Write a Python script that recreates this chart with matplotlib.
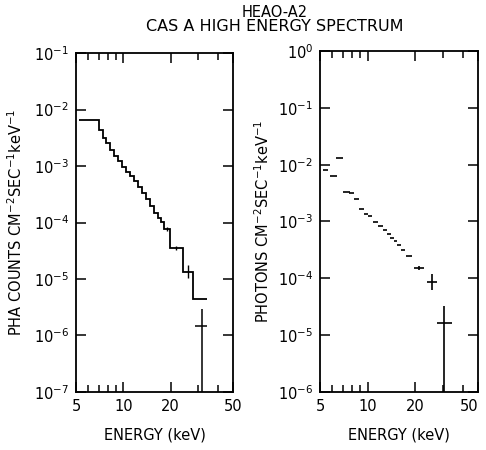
import numpy as np
import matplotlib.pyplot as plt
from matplotlib.ticker import FixedLocator, NullFormatter

plt.rcParams['font.family'] = ['DejaVu Sans']
plt.rcParams['mathtext.fontset'] = 'dejavusans'

# PHA counts: step histogram (bin edges in keV, one value per bin)
pha_edges = [5.2, 7.0, 7.4, 7.8, 8.2, 8.7, 9.3, 9.8, 10.4, 11.0, 11.7, 12.4,
             13.2, 14.0, 14.8, 15.7, 16.6, 17.4, 18.2, 19.8, 24.0, 27.8, 34.0]
pha_counts = [6.5e-3, 4.3e-3, 3.1e-3, 2.55e-3, 1.92e-3, 1.5e-3, 1.23e-3, 9.6e-4,
              7.8e-4, 6.65e-4, 5.4e-4, 4.25e-4, 3.3e-4, 2.6e-4, 1.96e-4, 1.47e-4,
              1.2e-4, 1.02e-4, 7.7e-5, 3.5e-5, 1.33e-5, 4.4e-6]
# error marks on the high-energy bins
pha_err_e = [19.0, 21.8, 25.8]
pha_err_v = [7.7e-5, 3.5e-5, 1.33e-5]
pha_err_lo = [0.6e-5, 0.3e-5, 0.3e-5]
pha_err_hi = [0.6e-5, 0.3e-5, 0.45e-5]
# last channel upper point
pha_last_e = 31.7
pha_last_v = 1.48e-6
pha_last_xerr = [[3.0], [2.7]]
pha_last_yerr = [[1.48e-6 - 1e-8], [1.47e-6]]

# unfolded photon spectrum
ph_e = [5.46, 6.09, 6.69, 7.36, 7.91, 8.51, 9.15, 9.77, 10.36, 11.22, 12.07,
        12.89, 13.67, 14.38, 15.02, 15.81, 16.76, 18.28, 21.17, 25.58, 30.47]
ph_flux = [8.0e-3, 6.3e-3, 1.31e-2, 3.3e-3, 3.16e-3, 2.48e-3, 1.65e-3, 1.35e-3,
           1.24e-3, 9.8e-4, 8.3e-4, 7.1e-4, 6.0e-4, 5.1e-4, 4.5e-4, 3.85e-4,
           3.15e-4, 2.47e-4, 1.51e-4, 8.6e-5, 1.63e-5]
ph_e_lo = [5.26, 5.80, 6.35, 7.0, 7.63, 8.2, 8.82, 9.45, 10.0, 10.8, 11.6,
           12.45, 13.25, 13.95, 14.6, 15.3, 16.2, 17.5, 19.7, 23.8, 27.5]
ph_e_hi = [5.66, 6.40, 7.04, 7.73, 8.2, 8.82, 9.5, 10.1, 10.72, 11.65, 12.55,
           13.35, 14.1, 14.8, 15.45, 16.3, 17.35, 19.1, 22.8, 27.5, 34.2]
ph_f_lo = [0, 0, 0, 0, 0, 0, 0, 0, 0, 0, 0, 0, 0, 0, 0, 0, 0, 0, 1.3e-5, 2.4e-5, 1.63e-5 - 1e-8]
ph_f_hi = [0, 0, 0, 0, 0, 0, 0, 0, 0, 0, 0, 0, 0, 0, 0, 0, 0, 0, 1.4e-5, 3.3e-5, 1.61e-5]

xtick_major = [5, 10, 20, 50]
xtick_minor = [6, 7, 8, 9, 30, 40]

fig = plt.figure(figsize=(4.86, 4.5), dpi=100)
ax1 = fig.add_axes([0.1564, 0.1289, 0.3230, 0.7533])
ax2 = fig.add_axes([0.6584, 0.1289, 0.3251, 0.7578])

lw = 1.3
fs = 10.5


def style_axis(ax, ylo, yhi):
    ax.set_xscale('log')
    ax.set_yscale('log')
    ax.set_xlim(5, 50)
    ax.set_ylim(10.0 ** ylo, 10.0 ** yhi)
    ax.xaxis.set_major_locator(FixedLocator(xtick_major))
    ax.xaxis.set_minor_locator(FixedLocator(xtick_minor))
    ax.xaxis.set_minor_formatter(NullFormatter())
    ax.set_xticklabels([str(t) for t in xtick_major])
    decades = range(ylo, yhi + 1)
    ax.yaxis.set_major_locator(FixedLocator([10.0 ** d for d in decades]))
    ax.yaxis.set_minor_locator(FixedLocator([]))
    ax.set_yticklabels(['10$^{%d}$' % d for d in decades])
    ax.tick_params(which='both', direction='in', top=True, right=True,
                   width=1.1, labelsize=fs, pad=5)
    ax.tick_params(which='major', length=7)
    ax.tick_params(which='minor', length=5)
    for s in ax.spines.values():
        s.set_linewidth(lw)
    ax.set_xlabel('ENERGY (keV)', fontsize=fs, labelpad=10)


# left panel: PHA counts
ax1.stairs(pha_counts, pha_edges, baseline=None, color='black', lw=lw)
ax1.errorbar(pha_err_e, pha_err_v, yerr=[pha_err_lo, pha_err_hi], fmt='none',
             ecolor='black', elinewidth=1.0, capsize=0)
ax1.errorbar([pha_last_e], [pha_last_v], xerr=pha_last_xerr, yerr=pha_last_yerr,
             fmt='none', ecolor='black', elinewidth=1.1, capsize=0)
style_axis(ax1, -7, -1)
ax1.set_ylabel('PHA COUNTS CM$^{-2}$SEC$^{-1}$keV$^{-1}$', fontsize=fs, labelpad=6)

# right panel: photon spectrum
ph_e_arr = np.array(ph_e)
ph_xerr = [ph_e_arr - np.array(ph_e_lo), np.array(ph_e_hi) - ph_e_arr]
ax2.errorbar(ph_e, ph_flux, xerr=ph_xerr, yerr=[ph_f_lo, ph_f_hi], fmt='none',
             ecolor='black', elinewidth=1.2, capsize=0)
style_axis(ax2, -6, 0)
ax2.set_ylabel('PHOTONS CM$^{-2}$SEC$^{-1}$keV$^{-1}$', fontsize=fs, labelpad=4)
# keep the rightmost tick label inside the figure
ax2.get_xticklabels()[-1].set_horizontalalignment('right')
ax2.get_xticklabels()[-1].set_x(50)

fig.text(0.566, 0.972, 'HEAO-A2', ha='center', va='center', fontsize=fs)
fig.text(0.566, 0.942, 'CAS A HIGH ENERGY SPECTRUM', ha='center', va='center',
         fontsize=fs + 1)

fig.savefig('out.png', dpi=100)
